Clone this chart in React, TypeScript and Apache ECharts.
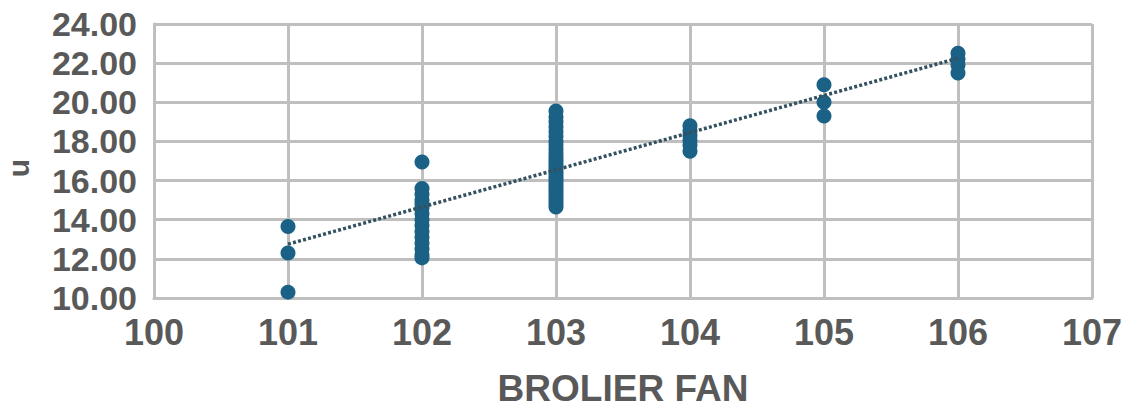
import React, { useEffect, useRef } from "react";
import * as echarts from "echarts";

const xTicks = [100, 101, 102, 103, 104, 105, 106, 107];
const yTicks = [10, 12, 14, 16, 18, 20, 22, 24];

const fan101 = [13.65, 12.3, 10.3];
const fan102 = [16.95, 15.6, 15.3, 15.0, 14.8, 14.6, 14.3, 14.0, 13.7, 13.4, 13.1, 12.8, 12.5, 12.2, 12.05];
const fan103 = [
  14.65, 14.8, 14.95, 15.1, 15.25, 15.4, 15.55, 15.7, 15.85, 16.0, 16.15, 16.3, 16.45, 16.6, 16.75,
  16.9, 17.05, 17.2, 17.4, 17.6, 17.8, 18.0, 18.25, 18.5, 18.75, 19.0, 19.25, 19.55,
];
const fan104 = [18.8, 18.55, 18.3, 18.05, 17.8, 17.5];
const fan105 = [20.9, 20.0, 19.3];
const fan106 = [22.5, 22.2, 21.9, 21.5];

const trendX = [101, 106];
const trendY = [12.75, 22.25];

const groups: [number, number[]][] = [
  [101, fan101],
  [102, fan102],
  [103, fan103],
  [104, fan104],
  [105, fan105],
  [106, fan106],
];

export default function App() {
  const ref = useRef<HTMLDivElement>(null);
  useEffect(() => {
    if (!ref.current) return;
    const chart = echarts.init(ref.current, undefined, { renderer: "svg" });
    const points: number[][] = [];
    groups.forEach(([x, ys]) => ys.forEach((y) => points.push([x, y])));
    const gridColor = "#bfbfbf";
    const font = "'Liberation Sans', Arial, sans-serif";
    chart.setOption({
      animation: false,
      grid: {
        left: 154,
        right: 36,
        top: 24,
        bottom: 112,
        containLabel: false,
        outerBoundsMode: "none",
      },
      xAxis: {
        type: "value",
        min: xTicks[0],
        max: xTicks[xTicks.length - 1],
        interval: 1,
        name: "BROLIER FAN",
        nameLocation: "middle",
        nameGap: 72,
        nameTextStyle: {
          fontFamily: font,
          fontWeight: "bold",
          fontSize: 37,
          color: "#595959",
        },
        axisLine: { show: true, lineStyle: { color: gridColor, width: 3 } },
        axisTick: { show: false },
        axisLabel: {
          margin: 16,
          fontFamily: font,
          fontWeight: "bold",
          fontSize: 36,
          color: "#595959",
        },
        splitLine: { show: true, lineStyle: { color: gridColor, width: 3 } },
      },
      yAxis: {
        type: "value",
        min: yTicks[0],
        max: yTicks[yTicks.length - 1],
        interval: 2,
        name: "u",
        nameLocation: "middle",
        nameGap: 121,
        nameRotate: 90,
        nameTextStyle: {
          fontFamily: font,
          fontWeight: "bold",
          fontSize: 30,
          color: "#595959",
          padding: [0, 14, 0, 0],
        },
        axisLine: { show: true, lineStyle: { color: gridColor, width: 3 } },
        axisTick: { show: false },
        axisLabel: {
          margin: 17,
          formatter: (v: number) => v.toFixed(2),
          fontFamily: font,
          fontWeight: "bold",
          fontSize: 34,
          color: "#595959",
        },
        splitLine: { show: true, lineStyle: { color: gridColor, width: 3 } },
      },
      series: [
        {
          type: "line",
          data: trendX.map((x, i) => [x, trendY[i]]),
          showSymbol: false,
          symbol: "none",
          lineStyle: { color: "#33515f", width: 3.5, type: [3, 2.2], cap: "butt" },
          z: 3,
        },
        {
          type: "scatter",
          data: points,
          symbolSize: 15,
          itemStyle: { color: "#1b6186", opacity: 1 },
          z: 2,
        },
      ],
    });
    return () => chart.dispose();
  }, []);
  return (
    <div
      ref={ref}
      style={{ position: "absolute", left: 0, top: 0, width: 1128, height: 410 }}
    />
  );
}
